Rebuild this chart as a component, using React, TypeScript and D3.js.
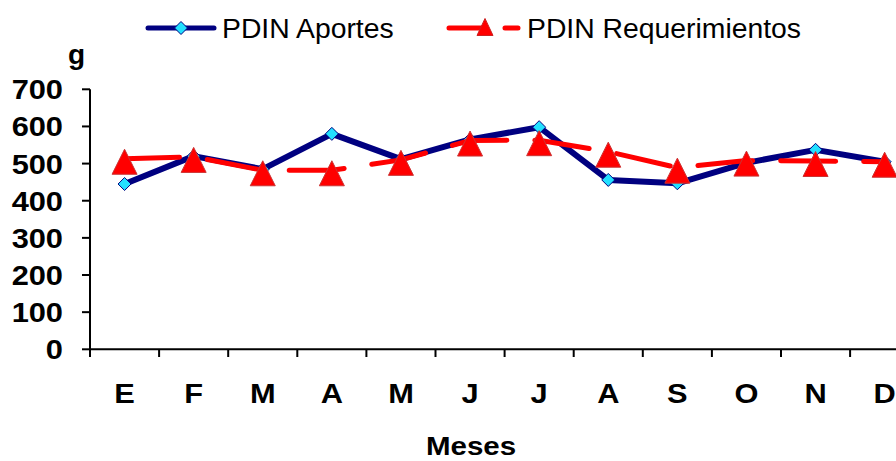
import React from "react";
import * as d3 from "d3";

const months = ["E", "F", "M", "A", "M", "J", "J", "A", "S", "O", "N", "D"];
const aportes = [445, 520, 485, 580, 512, 565, 598, 456, 447, 502, 537, 505];
const requerimientos = [513, 518, 482, 482, 510, 562, 563, 532, 489, 508, 507, 505];
const yTicks = [0, 100, 200, 300, 400, 500, 600, 700];

const W = 896;
const H = 461;
const FONT = "'Liberation Sans', Arial, sans-serif";

function SText(props: {
  x: number;
  y: number;
  size: number;
  anchor?: "start" | "middle" | "end";
  bold?: boolean;
  sx?: number;
  children: React.ReactNode;
}) {
  const { x, y, size, anchor = "start", bold = false, sx = 1.1, children } = props;
  return (
    <text
      transform={`translate(${x},${y}) scale(${sx},1)`}
      fontSize={size}
      textAnchor={anchor}
      fontWeight={bold ? "bold" : "normal"}
      fill="#000"
    >
      {children}
    </text>
  );
}

export default function App() {
  const x0 = 90;
  const step = 69.1;
  const idx = months.map((_, i) => i);
  const x = d3.scaleBand<number>().domain(idx).range([x0, x0 + step * 12]);
  const y = d3.scaleLinear().domain([0, 700]).range([349.3, 89.3]);
  const cx = (i: number) => (x(i) as number) + x.bandwidth() / 2;

  const line = d3
    .line<number>()
    .x((_, i) => cx(i))
    .y((d) => y(d));

  const dia = (px: number, py: number, r: number) =>
    `M${px},${py - r}L${px + r},${py}L${px},${py + r}L${px - r},${py}Z`;

  const triPath = (px: number, py: number, w: number, h: number) =>
    `M${px},${py - h / 2}L${px + w / 2},${py + h / 2}L${px - w / 2},${py + h / 2}Z`;

  return (
    <svg
      width={W}
      height={H}
      style={{ position: "absolute", left: 0, top: 0, background: "#fff" }}
      fontFamily={FONT}
    >
      {/* Legend */}
      <line x1={148} x2={214} y1={28} y2={28} stroke="#000080" strokeWidth={5} strokeLinecap="round" />
      <path d={dia(181, 28, 6.5)} fill="#22e0ff" stroke="#000080" strokeWidth={1} />
      <SText x={222} y={38} size={27} sx={1.05}>PDIN Aportes</SText>
      <line x1={449} x2={518} y1={28} y2={28} stroke="#ff0000" strokeWidth={5} strokeLinecap="round" strokeDasharray="36 20" />
      <path d={triPath(485, 27, 16, 17)} fill="#ff0000" stroke="#cc2222" strokeWidth={1} />
      <SText x={527} y={38} size={27} sx={1.05}>PDIN Requerimientos</SText>

      {/* Y axis */}
      <line x1={x0} x2={x0} y1={y(700)} y2={357} stroke="#000" strokeWidth={2} />
      {yTicks.map((t) => (
        <g key={t}>
          <line x1={82} x2={x0} y1={y(t)} y2={y(t)} stroke="#000" strokeWidth={2} />
          <SText x={63} y={y(t) + 10} size={28} anchor="end" bold>
            {t}
          </SText>
        </g>
      ))}
      <SText x={68} y={64} size={28} bold sx={1}>g</SText>

      {/* X axis */}
      <line x1={x0} x2={W} y1={y(0)} y2={y(0)} stroke="#000" strokeWidth={2} />
      {idx.map((i) => (
        <g key={i}>
          <line
            x1={(x(i) as number) + step}
            x2={(x(i) as number) + step}
            y1={y(0)}
            y2={357}
            stroke="#000"
            strokeWidth={2}
          />
          <SText x={cx(i)} y={403} size={28} anchor="middle" bold>
            {months[i]}
          </SText>
        </g>
      ))}
      <SText x={471} y={455} size={25} anchor="middle" bold sx={1.18}>Meses</SText>

      {/* Aportes series */}
      <path d={line(aportes) || ""} fill="none" stroke="#000080" strokeWidth={6} strokeLinejoin="round" />
      {aportes.map((v, i) => (
        <path key={"a" + i} d={dia(cx(i), y(v), 6.5)} fill="#22e0ff" stroke="#000080" strokeWidth={1} />
      ))}

      {/* Requerimientos series */}
      <path
        d={line(requerimientos) || ""}
        fill="none"
        stroke="#ff0000"
        strokeWidth={5}
        strokeLinecap="round"
        strokeDasharray="55 28"
      />
      {requerimientos.map((v, i) => (
        <path key={"r" + i} d={triPath(cx(i), y(v) + 3, 25, 25)} fill="#ff0000" stroke="#cc3333" strokeWidth={1} />
      ))}
    </svg>
  );
}
